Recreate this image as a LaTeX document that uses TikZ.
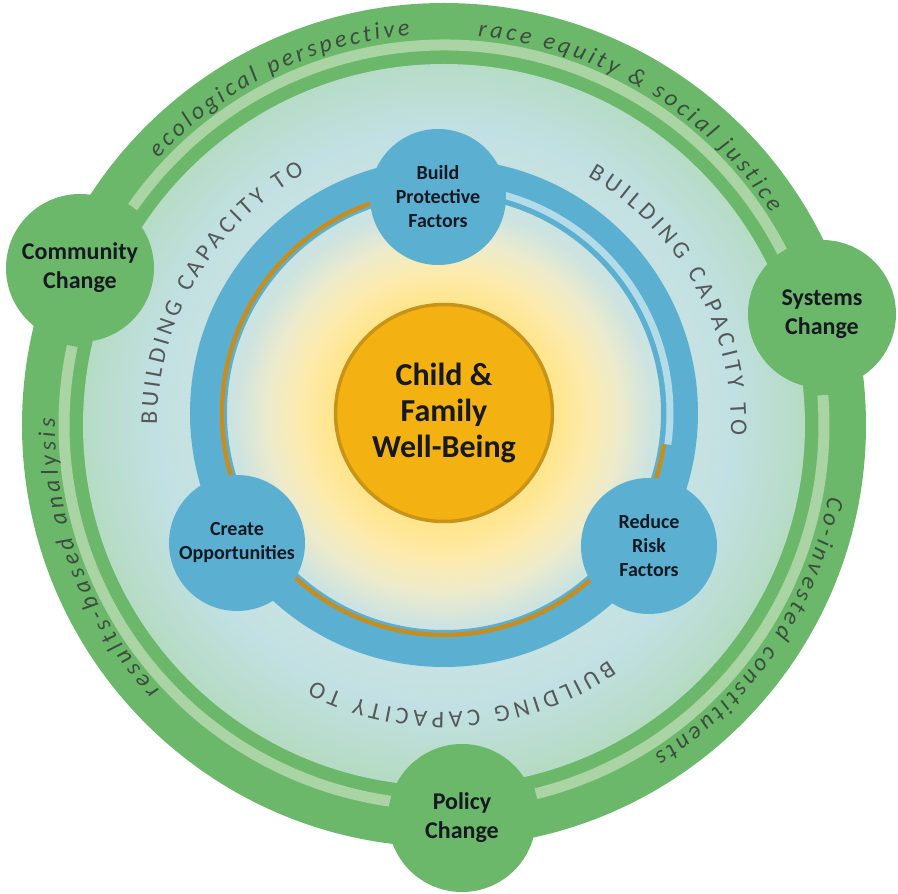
\documentclass[tikz,border=0pt]{standalone}
\usepackage{fontspec}
\setmainfont{Carlito}
\usetikzlibrary{decorations.text}

\definecolor{ringgreen}{RGB}{107,184,106}
\definecolor{stripegreen}{RGB}{170,212,164}
\definecolor{ringblue}{RGB}{91,176,209}
\definecolor{paleblue}{RGB}{180,220,232}
\definecolor{stripegold}{RGB}{196,142,32}
\definecolor{coreorange}{RGB}{243,178,18}
\definecolor{coreedge}{RGB}{200,148,24}
\definecolor{inktext}{RGB}{22,24,34}
\definecolor{arcgray}{RGB}{84,88,88}
\definecolor{bandtext}{RGB}{60,76,62}

\pgfdeclareradialshading{glow}{\pgfpoint{0bp}{0.8bp}}{%
  rgb(0bp)=(1,0.90,0.55); rgb(8bp)=(1,0.90,0.56); rgb(10bp)=(0.99,0.92,0.68);
  rgb(12.2bp)=(0.93,0.92,0.80); rgb(14.5bp)=(0.80,0.89,0.88); rgb(20bp)=(0.76,0.88,0.89);
  rgb(25bp)=(0.71,0.86,0.77); rgb(50bp)=(0.71,0.86,0.77)}

\begin{document}
\begin{tikzpicture}[x=1pt, y=1pt,
  changenode/.style={circle, fill=ringgreen, minimum size=148pt, inner sep=0pt, align=center,
    text=inktext, font=\bfseries\fontsize{24}{29}\selectfont},
  aimnode/.style={circle, fill=ringblue, minimum size=136pt, inner sep=0pt, align=center,
    text=inktext, font=\bfseries\fontsize{20}{24}\selectfont},
  arctext/.style={decorate, decoration={text along path, text align={fit to path}}}]
  \useasboundingbox (-444,-469) rectangle (454,425);

  % outer green band and its light stripes
  \fill[ringgreen] (0,0) circle (422);
  \foreach \a/\b in {145/27, 4.5/-76, 262/168}
    \draw[stripegreen, line width=11pt] (\a:380) arc[start angle=\a, end angle=\b, radius=380];
  \shade[shading=glow] (0,0) circle (361);

  % texts on the outer band
  \path[arctext, decoration={text color=bandtext,
    text={|\itshape\fontsize{24}{24}\selectfont|ecological perspective}}]
    (137:391) arc[start angle=137, end angle=95, radius=391];
  \path[arctext, decoration={text color=bandtext,
    text={|\itshape\fontsize{24}{24}\selectfont|race equity {\&} social justice}}]
    (85:390) arc[start angle=85, end angle=33, radius=390];
  \path[arctext, decoration={text color=bandtext,
    text={|\itshape\fontsize{24}{24}\selectfont|Co-invested constituents}}]
    (-10.5:391) arc[start angle=-10.5, end angle=-57.5, radius=391];
  \path[arctext, decoration={text color=bandtext,
    text={|\itshape\fontsize{24}{24}\selectfont|results-based analysis}}]
    (223:389) arc[start angle=223, end angle=179, radius=389];

  % building capacity to
  \foreach \a/\b in {180/119, 60/-2, -55/-117}
    \path[arctext, decoration={text color=arcgray,
      text={|\fontsize{24}{24}\selectfont|BUILDING CAPACITY TO}}]
      (\a:287) arc[start angle=\a, end angle=\b, radius=287];

  % blue ring
  \coordinate (hub) at (0,12);
  \draw[ringblue, line width=37pt] (hub) circle (235.5);
  \draw[stripegold, line width=4.5pt] (hub) ++(91.6:222) arc[start angle=91.6, end angle=327, radius=222];
  \draw[stripegold, line width=4.5pt] (hub) ++(-33:222) arc[start angle=-33, end angle=-8, radius=222];
  \draw[paleblue, line width=7pt] (hub) ++(-8:226) arc[start angle=-8, end angle=91.6, radius=226];

  \node[circle, fill=coreorange, draw=coreedge, line width=3.5pt, minimum size=217pt, align=center,
    text=inktext, font=\bfseries\fontsize{32}{36}\selectfont] (core) at (hub) {Child \&\\Family\\Well-Being};

  \node[aimnode] (protect) at (-6,228) {Build\\Protective\\Factors};
  \node[aimnode] (create) at (-207,-118) {Create\\Opportunities};
  \node[aimnode] (reduce) at (205,-121) {Reduce\\Risk\\Factors};

  \node[changenode] (community) at (-364,157) {Community\\Change};
  \node[changenode] (systems) at (378,111) {Systems\\Change};
  \node[changenode] (policy) at (18,-393) {Policy\\Change};
\end{tikzpicture}
\end{document}
